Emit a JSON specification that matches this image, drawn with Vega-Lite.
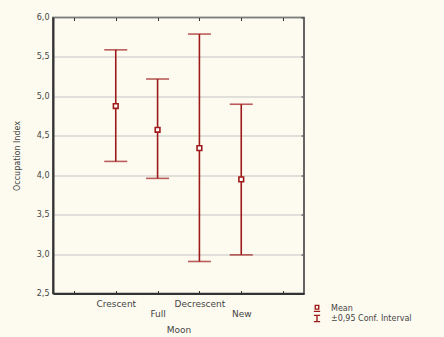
{
  "$schema": "https://vega.github.io/schema/vega-lite/v6.json",
  "width": 251,
  "height": 276,
  "autosize": {"type": "none"},
  "padding": {"left": 53, "top": 17.5, "right": 140, "bottom": 43.5},
  "background": "#fdfbf0",
  "config": {
    "view": {"fill": "white", "stroke": "#333333", "strokeWidth": 1.5},
    "font": "DejaVu Sans",
    "axis": {
      "labelFont": "DejaVu Sans",
      "titleFont": "DejaVu Sans",
      "labelColor": "#444444",
      "titleColor": "#444444",
      "titleFontWeight": "normal",
      "labelFontSize": 8,
      "titleFontSize": 8,
      "domainColor": "#333333",
      "tickColor": "#333333"
    }
  },
  "datasets": {
    "stats": [
      {"moon": "Crescent", "mean": 4.877, "lo": 4.175, "hi": 5.59},
      {"moon": "Full", "mean": 4.576, "lo": 3.96, "hi": 5.22},
      {"moon": "Decrescent", "mean": 4.344, "lo": 2.906, "hi": 5.79},
      {"moon": "New", "mean": 3.947, "lo": 2.99, "hi": 4.9}
    ],
    "legend": [
      {"series": "Mean"},
      {"series": "±0,95 Conf. Interval"}
    ]
  },
  "layer": [
    {
      "data": {"name": "stats"},
      "mark": {"type": "rule", "color": "#9e1a1a", "strokeWidth": 1.6},
      "encoding": {
        "x": {
          "field": "moon", "type": "nominal",
          "scale": {"type": "point", "domain": ["_a", "Crescent", "Full", "Decrescent", "New", "_b"], "padding": 0.5},
          "axis": {
            "orient": "bottom", "title": "Moon", "labelAngle": 0,
            "labelExpr": "(datum.value == 'Full' || datum.value == 'New') ? ['', datum.value] : ((datum.value == '_a' || datum.value == '_b') ? '' : datum.value)",
            "labelFontSize": 9, "titleFontSize": 9,
            "labelLineHeight": 9.5,
            "labelBaseline": "top",
            "tickSize": -3, "labelPadding": 9,
            "domainWidth": 2, "grid": false, "titlePadding": 7
          }
        },
        "y": {
          "field": "lo", "type": "quantitative",
          "scale": {"domain": [2.5, 6], "nice": false, "zero": false},
          "axis": {
            "orient": "left", "title": "Occupation Index",
            "values": [2.5, 3, 3.5, 4, 4.5, 5, 5.5, 6],
            "labelExpr": "replace(format(datum.value, '.1f'), '.', ',')",
            "ticks": false, "labelPadding": 4, "domainWidth": 2,
            "grid": true, "gridColor": "#c4c4c4", "gridWidth": 1.2,
            "titlePadding": 15
          }
        },
        "y2": {"field": "hi"}
      }
    },
    {
      "data": {"name": "stats"},
      "mark": {"type": "tick", "color": "#9e1a1a", "size": 23, "thickness": 1.6},
      "encoding": {
        "x": {
          "field": "moon", "type": "nominal",
          "axis": {"orient": "top", "title": null, "labels": false, "domain": false, "tickSize": -3, "grid": false}
        },
        "y": {
          "field": "lo", "type": "quantitative",
          "axis": {"orient": "right", "title": null, "labels": false, "domain": false, "tickSize": -3, "grid": false, "values": [2.5, 3, 3.5, 4, 4.5, 5, 5.5, 6]}
        }
      }
    },
    {
      "data": {"name": "stats"},
      "mark": {"type": "tick", "color": "#9e1a1a", "size": 23, "thickness": 1.6},
      "encoding": {
        "x": {"field": "moon", "type": "nominal", "axis": null},
        "y": {"field": "hi", "type": "quantitative", "axis": null}
      }
    },
    {
      "data": {"name": "stats"},
      "mark": {"type": "point", "shape": "square", "size": 22, "filled": false, "fill": "white", "stroke": "#9e1a1a", "strokeWidth": 1.6, "opacity": 1},
      "encoding": {
        "x": {"field": "moon", "type": "nominal", "axis": null},
        "y": {"field": "mean", "type": "quantitative", "axis": null}
      }
    },
    {
      "data": {"name": "legend"},
      "mark": {"type": "point", "filled": false, "strokeWidth": 1.4},
      "encoding": {
        "opacity": {"value": 0},
        "color": {
          "field": "series", "type": "nominal",
          "scale": {"domain": ["Mean", "±0,95 Conf. Interval"], "range": ["#9e1a1a", "#9e1a1a"]},
          "legend": {
            "title": null, "orient": "none", "legendX": 260, "legendY": 287,
            "symbolOpacity": 1, "symbolStrokeWidth": 1.4, "symbolSize": 40,
            "labelFontSize": 8, "labelFont": "DejaVu Sans", "labelColor": "#444444",
            "rowPadding": -7.5, "labelOffset": 10
          }
        },
        "shape": {
          "field": "series", "type": "nominal",
          "scale": {"domain": ["Mean", "±0,95 Conf. Interval"], "range": ["M-0.55,-1H0.55V0.2H-0.55Z M-1,0.9H1", "M-1,-1H1M0,-1V1M-1,1H1"]}
        }
      }
    }
  ],
  "resolve": {"axis": {"x": "independent", "y": "independent"}}
}
